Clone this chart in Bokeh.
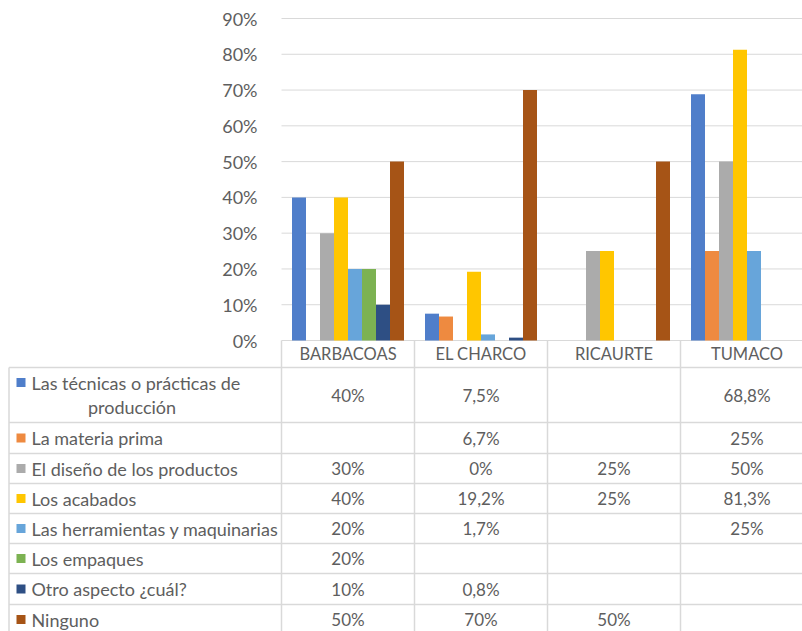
from bokeh.plotting import figure
from bokeh.models import Range1d, FixedTicker, NumeralTickFormatter
from bokeh.core.properties import value
from bokeh.embed import file_html
from bokeh.resources import INLINE

# ---------------- data ----------------
categories = ["BARBACOAS", "EL CHARCO", "RICAURTE", "TUMACO"]
series_names = [
    "Las técnicas o prácticas de producción",
    "La materia prima",
    "El diseño de los productos",
    "Los acabados",
    "Las herramientas y maquinarias",
    "Los empaques",
    "Otro aspecto ¿cuál?",
    "Ninguno",
]
tecnicas = [40, 7.5, None, 68.8]
materia_prima = [None, 6.7, None, 25]
diseno = [30, 0, 25, 50]
acabados = [40, 19.2, 25, 81.3]
herramientas = [20, 1.7, None, 25]
empaques = [20, None, None, None]
otro_aspecto = [10, 0.8, None, None]
ninguno = [50, 70, 50, None]
y_ticks = [0, 10, 20, 30, 40, 50, 60, 70, 80, 90]

series_values = [tecnicas, materia_prima, diseno, acabados,
                 herramientas, empaques, otro_aspecto, ninguno]
colors = ["#4F7ECA", "#EE8A40", "#ABABAB", "#FFC600",
          "#67A5DA", "#7CB252", "#2E4F84", "#A65416"]

# ---------------- style / layout ----------------
FONT = "Lato"
FS = "18px"
FS_VAL = "17px"
FS_HEAD = "16.5px"
TXT = "#5E5E5E"
GRID = "#D9D9D9"
W, H = 802, 631
CAT_PX = 133.0          # width of one category column
PLOT_LEFT = 281.0       # left edge of the plot area
ZERO_PY = 340.0         # pixel row of 0 %
TOP_PY = 18.0           # pixel row of 90 %
BAR_W = 14.0 / CAT_PX

X0 = -PLOT_LEFT / CAT_PX
X1 = (W - PLOT_LEFT) / CAT_PX
vmax = y_ticks[-1] / 100
Y0 = vmax * (ZERO_PY - H) / (ZERO_PY - TOP_PY)
Y1 = vmax * ZERO_PY / (ZERO_PY - TOP_PY)

p = figure(width=W, height=H, output_backend="svg", toolbar_location=None,
           x_range=Range1d(X0, X1), y_range=Range1d(Y0, Y1),
           x_axis_location=None, min_border=0)
p.outline_line_color = None
p.grid.visible = False
p.extra_y_ranges = {"table": Range1d(start=H, end=0)}

# y axis (inside frame, at the start of the plot area)
p.yaxis.fixed_location = 0
p.yaxis.ticker = FixedTicker(ticks=[t / 100 for t in y_ticks])
p.yaxis.formatter = NumeralTickFormatter(format="0%")
p.yaxis.axis_line_color = None
p.yaxis.major_tick_line_color = None
p.yaxis.minor_tick_line_color = None
p.yaxis.major_label_text_font = FONT
p.yaxis.major_label_text_font_size = FS
p.yaxis.major_label_text_color = TXT
p.yaxis.major_label_standoff = 18

# gridlines
gy = [t / 100 for t in y_ticks]
p.segment(x0=[0] * len(gy), y0=gy, x1=[len(categories) + 1] * len(gy), y1=gy,
          line_color=GRID, line_width=1)

# bars
n = len(series_names)
for i, (vals, col) in enumerate(zip(series_values, colors)):
    xs, tops = [], []
    for j, v in enumerate(vals):
        if v is None:
            continue
        xs.append(j + 0.5 + (i - (n - 1) / 2) * BAR_W)
        tops.append(v / 100)
    p.vbar(x=xs, top=tops, bottom=0, width=BAR_W, fill_color=col,
           line_color=None)

# ---------------- data table ----------------
HEADER_H = 27.0
ROW_H = [55.0, 31.0, 30.0, 30.0, 30.0, 30.0, 31.0, 30.0]
TBL = dict(y_range_name="table")

bounds = [ZERO_PY + HEADER_H]
for h in ROW_H:
    bounds.append(bounds[-1] + h)
bottom = bounds[-1]

left_x = (8.5 - PLOT_LEFT) / CAT_PX
right_x = len(categories)
t_line = dict(line_color=GRID, line_width=1.5, **TBL)
p.segment(x0=[left_x] * len(bounds), y0=bounds,
          x1=[right_x] * len(bounds), y1=bounds, **t_line)
vx = list(range(len(categories) + 1))
p.segment(x0=vx, y0=[ZERO_PY] * len(vx), x1=vx, y1=[bottom] * len(vx), **t_line)
p.segment(x0=[left_x], y0=[bounds[0]], x1=[left_x], y1=[bottom], **t_line)

txt = dict(text_font=value(FONT), text_color=TXT,
           text_baseline="middle", **TBL)

p.text(x=[j + 0.5 for j in range(len(categories))],
       y=[ZERO_PY + HEADER_H / 2] * len(categories), text=categories,
       text_align="center", text_font_size=FS_HEAD, **txt)


def fmt(v):
    if v is None:
        return ""
    if float(v).is_integer():
        return f"{int(v)}%"
    return f"{v:.1f}%".replace(".", ",")


KEY_X = (20.5 - PLOT_LEFT) / CAT_PX
LBL_X = (31.0 - PLOT_LEFT) / CAT_PX
WRAP_CX = (131.5 - PLOT_LEFT) / CAT_PX

for i, (name, vals, col) in enumerate(zip(series_names, series_values, colors)):
    y0, y1 = bounds[i], bounds[i + 1]
    yc = (y0 + y1) / 2
    xs = [j + 0.5 for j in range(len(categories))]
    p.text(x=xs, y=[yc] * len(xs), text=[fmt(v) for v in vals],
           text_align="center", text_font_size=FS_VAL, **txt)
    if i == 0:
        first, second = name.rsplit(" ", 1)
        ky = y0 + 15
        p.scatter(x=[KEY_X], y=[ky], marker="square", size=9,
                  fill_color=col, line_color=None, **TBL)
        p.text(x=[LBL_X], y=[ky], text=[first], text_align="left",
               text_font_size=FS, **txt)
        p.text(x=[WRAP_CX], y=[ky + 24], text=[second], text_align="center",
               text_font_size=FS, **txt)
    else:
        p.scatter(x=[KEY_X], y=[yc], marker="square", size=9,
                  fill_color=col, line_color=None, **TBL)
        p.text(x=[LBL_X], y=[yc], text=[name], text_align="left",
               text_font_size=FS, **txt)

open("out.html", "w").write(file_html(p, INLINE))
